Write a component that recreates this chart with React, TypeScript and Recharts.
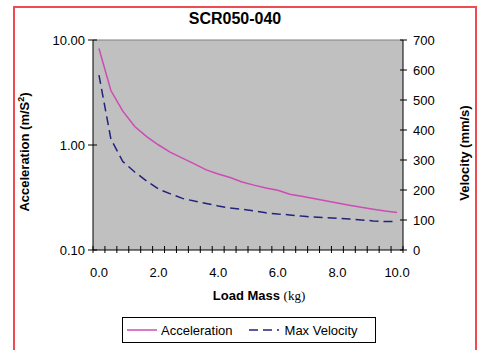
import { LineChart, Line, XAxis, YAxis, CartesianGrid, ReferenceLine, Legend } from "recharts";

const ARIAL = "Arial, 'Liberation Sans', sans-serif";
const TIMES = "'Times New Roman', 'Liberation Serif', serif";

// load mass in kg (one category every 0.4 kg)
const loadMass = [
  0.0, 0.4, 0.8, 1.2, 1.6, 2.0, 2.4, 2.8, 3.2, 3.6, 4.0, 4.4, 4.8,
  5.2, 5.6, 6.0, 6.4, 6.8, 7.2, 7.6, 8.0, 8.4, 8.8, 9.2, 9.6, 10.0,
];
// m/S^2 (log axis)
const acceleration = [
  8.3, 3.3, 2.1, 1.5, 1.2, 1.0, 0.85, 0.75, 0.66, 0.58, 0.53, 0.49, 0.445,
  0.415, 0.39, 0.37, 0.34, 0.325, 0.31, 0.295, 0.28, 0.267, 0.255, 0.245, 0.235, 0.228,
];
// mm/s
const maxVelocity = [
  583, 370, 295, 260, 230, 203, 187, 172, 163, 155, 147, 140, 136,
  130, 124, 120, 117, 113, 110, 108, 106, 103, 100, 97, 95, 95,
];

const massLabels = [0, 2, 4, 6, 8, 10];
const accTicks = [0.1, 1, 10];
const velTicks = [0, 100, 200, 300, 400, 500, 600, 700];

const series = [
  { key: "acc", name: "Acceleration", color: "#cc4cb4", dash: undefined as string | undefined },
  { key: "vel", name: "Max Velocity", color: "#22227a", dash: "9 5" },
];

const data = loadMass.map((m, i) => ({ mass: m, acc: acceleration[i], vel: maxVelocity[i] }));

// tick marks sit between categories, like the original
const step = loadMass[1] - loadMass[0];
const massBounds = [
  ...loadMass.map((m) => +(m - step / 2).toFixed(1)),
  +(loadMass[loadMass.length - 1] + step / 2).toFixed(1),
];
const xTicks = [...massBounds, ...massLabels].sort((a, b) => a - b);

function XTick(props: any) {
  const { x, y, payload } = props;
  const v = payload.value as number;
  if (massLabels.some((l) => Math.abs(l - v) < 1e-6)) {
    return (
      <text x={x} y={y + 27} textAnchor="middle" fontFamily={ARIAL} fontSize={13} fill="#000">
        {v.toFixed(1)}
      </text>
    );
  }
  return <line x1={x} x2={x} y1={y - 4} y2={y + 3} stroke="#000" strokeWidth={1} />;
}

function AccTick(props: any) {
  const { x, y, payload } = props;
  return (
    <g>
      <line x1={x - 5} x2={x + 4} y1={y} y2={y} stroke="#000" />
      <text x={x - 8} y={y + 5} textAnchor="end" fontFamily={ARIAL} fontSize={13} fill="#000">
        {Number(payload.value).toFixed(2)}
      </text>
    </g>
  );
}

function VelTick(props: any) {
  const { x, y, payload } = props;
  return (
    <g>
      <line x1={x - 3} x2={x + 4} y1={y} y2={y} stroke="#000" />
      <text x={x + 10} y={y + 5} textAnchor="start" fontFamily={ARIAL} fontSize={13} fill="#000">
        {payload.value}
      </text>
    </g>
  );
}

function AccLabel({ viewBox }: any) {
  const x = viewBox.x + 16;
  const y = viewBox.y + viewBox.height / 2 + 7;
  return (
    <text x={x} y={y} transform={`rotate(-90 ${x} ${y})`} textAnchor="middle" fontFamily={ARIAL} fontSize={13} fontWeight="bold" fill="#000">
      Acceleration (m/S<tspan fontSize={9} dy={-5}>2</tspan>
      <tspan dy={5}>)</tspan>
    </text>
  );
}

function VelLabel({ viewBox }: any) {
  const x = viewBox.x + 66;
  const y = viewBox.y + viewBox.height / 2 + 8;
  return (
    <text x={x} y={y} transform={`rotate(-90 ${x} ${y})`} textAnchor="middle" fontFamily={ARIAL} fontSize={13} fontWeight="bold" fill="#000">
      Velocity (mm/s)
    </text>
  );
}

function MassLabel({ viewBox }: any) {
  const x = viewBox.x + viewBox.width / 2 + 11;
  const y = viewBox.y + 50;
  return (
    <text x={x} y={y} textAnchor="middle" fill="#000">
      <tspan fontFamily={ARIAL} fontSize={13} fontWeight="bold">Load Mass </tspan>
      <tspan fontFamily={TIMES} fontSize={13}>(kg)</tspan>
    </text>
  );
}

function LegendBox() {
  return (
    <div
      style={{
        border: "1px solid #000",
        background: "#fff",
        width: 252,
        height: 24,
        display: "flex",
        alignItems: "center",
        fontFamily: ARIAL,
        fontSize: 13,
        color: "#000",
      }}
    >
      {series.map((s, i) => (
        <div key={s.key} style={{ display: "flex", alignItems: "center", marginLeft: i === 0 ? 4 : 16 }}>
          <svg width={30} height={6}>
            <line x1={0} x2={30} y1={3} y2={3} stroke={s.color} strokeWidth={1.5} strokeDasharray={s.dash} />
          </svg>
          <span style={{ marginLeft: i === 0 ? 4 : 6 }}>{s.name}</span>
        </div>
      ))}
    </div>
  );
}

export default function App() {
  return (
    <div style={{ position: "absolute", left: 0, top: 0, width: 482, height: 350, overflow: "hidden", background: "#fff" }}>
      <div
        style={{
          position: "absolute",
          left: 13,
          top: 6,
          width: 460,
          height: 380,
          border: "2px solid #ef4b52",
        }}
      />
      <div
        style={{
          position: "absolute",
          left: 0,
          width: 470,
          top: 10,
          textAlign: "center",
          fontFamily: ARIAL,
          fontWeight: "bold",
          fontSize: 16,
          lineHeight: "18px",
          color: "#000",
        }}
      >
        SCR050-040
      </div>
      <div style={{ position: "absolute", left: 0, top: 0 }}>
        <LineChart width={482} height={350} data={data} margin={{ top: 40, left: 13, right: 9, bottom: 50 }}>
          <CartesianGrid yAxisId="acc" fill="#c0c0c0" horizontal={false} vertical={false} />
          <ReferenceLine yAxisId="acc" y={10} stroke="#808080" strokeWidth={1} />
          <XAxis
            dataKey="mass"
            type="number"
            domain={[massBounds[0], massBounds[massBounds.length - 1]]}
            ticks={xTicks}
            interval={0}
            height={50}
            tickSize={0}
            tickMargin={0}
            tickLine={false}
            tick={<XTick />}
            axisLine={{ stroke: "#000" }}
            label={<MassLabel />}
          />
          <YAxis
            yAxisId="acc"
            orientation="left"
            scale="log"
            domain={[0.1, 10]}
            allowDataOverflow
            ticks={accTicks}
            interval={0}
            width={80}
            tickSize={0}
            tickMargin={0}
            tickLine={false}
            tick={<AccTick />}
            axisLine={{ stroke: "#000" }}
            label={<AccLabel />}
          />
          <YAxis
            yAxisId="vel"
            orientation="right"
            domain={[0, 700]}
            ticks={velTicks}
            interval={0}
            width={70}
            tickSize={0}
            tickMargin={0}
            tickLine={false}
            tick={<VelTick />}
            axisLine={{ stroke: "#000" }}
            label={<VelLabel />}
          />
          <Legend
            layout="horizontal"
            verticalAlign="middle"
            align="center"
            wrapperStyle={{ left: 122, top: 317, width: 254, height: 26 }}
            content={<LegendBox />}
          />
          {series.map((s) => (
            <Line
              key={s.key}
              yAxisId={s.key}
              dataKey={s.key}
              name={s.name}
              type="linear"
              stroke={s.color}
              strokeWidth={1.5}
              strokeDasharray={s.dash}
              dot={false}
              activeDot={false}
              isAnimationActive={false}
            />
          ))}
        </LineChart>
      </div>
    </div>
  );
}
